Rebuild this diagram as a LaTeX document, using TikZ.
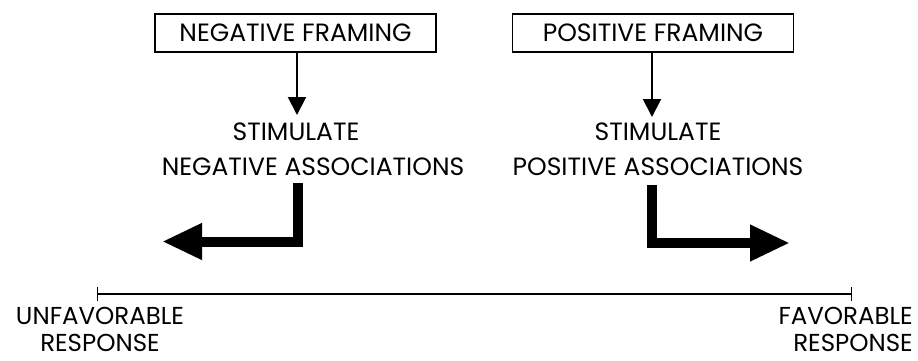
\documentclass[tikz,border=0pt]{standalone}
\usepackage{fontspec}
\setmainfont{Poppins}
\usetikzlibrary{arrows.meta}
\begin{document}
\begin{tikzpicture}[x=1pt,y=1pt,
  txt/.style={inner sep=0pt, font=\fontsize{25}{35}\selectfont},
  framebox/.style={txt, draw, line width=1.5pt, minimum width=281pt, minimum height=38pt},
  lbl/.style={txt, align=center},
  endlbl/.style={inner sep=0pt, font=\fontsize{24.5}{27}\selectfont},
  thinarrow/.style={line width=2pt, -{Triangle[length=18pt,width=18pt]}},
  fatarrow/.style={line width=10pt, line join=miter, -{Triangle[length=40pt,width=34pt]}},
  axisline/.style={line width=1.3pt, {Bar[width=14pt]}-{Bar[width=14pt]}}]
\useasboundingbox (0,0) rectangle (918,360);
% boxes
\node[framebox] (nf) at (295.5,327) {NEGATIVE FRAMING};
\node[framebox] (pf) at (653,327) {POSITIVE FRAMING};
% stimulate texts
\node[lbl] (ns) at (313,211) {STIMULATE\hspace{34pt}\mbox{}\\NEGATIVE ASSOCIATIONS};
\node[lbl] (ps) at (658,211) {STIMULATE\\POSITIVE ASSOCIATIONS};
% thin arrows
\coordinate (nt) at (297,245);
\coordinate (ptip) at (652,243);
\draw[thinarrow] (nf.south -| nt) -- (nt);
\draw[thinarrow] (pf.south -| ptip) -- (ptip);
% thick L arrows
\coordinate (la) at (298,177);
\coordinate (lc) at (298,118.5);
\coordinate (le) at (162,118.5);
\draw[fatarrow] (la) -- (lc) -- (le);
\coordinate (ra) at (652,175);
\coordinate (rc) at (652,117);
\coordinate (re) at (790,117);
\draw[fatarrow] (ra) -- (rc) -- (re);
% response scale
\coordinate (sl) at (97,66);
\coordinate (sr) at (852,66);
\draw[axisline] (sl) -- (sr);
\node[endlbl, align=center] (un) at (100,31) {UNFAVORABLE\\RESPONSE};
\node[endlbl, align=right, anchor=east] (fa) at (913,31) {FAVORABLE\\RESPONSE};
\end{tikzpicture}
\end{document}
